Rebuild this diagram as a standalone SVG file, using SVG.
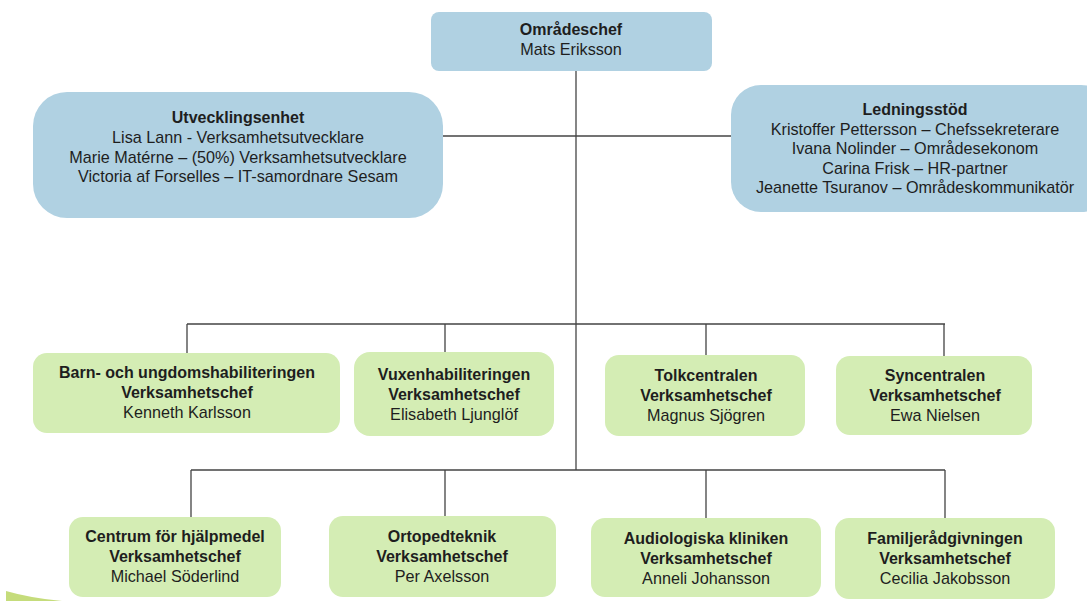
<svg xmlns="http://www.w3.org/2000/svg" width="1087" height="601" viewBox="0 0 1087 601">
<style>
.blue{fill:#b0d1e2}
.green{fill:#d4edb4}
.t{font-family:"Liberation Sans",Arial,sans-serif;font-size:16.2px;fill:#1e1e1e;text-anchor:middle}
.b{font-weight:bold;font-size:16px}
.c{stroke:#444;stroke-width:1.3;fill:none}
</style>
<rect width="1087" height="601" fill="#ffffff"/>
<path d="M6,591 Q30,598 62,601 L6,601 Z" fill="#b7d35a" opacity="0.8"/>
<g id="connectors">
<path class="c" d="M576,71 V470"/>
<path class="c" d="M443,136 H733"/>
<path class="c" d="M187,324 H945 M187,324 V353 M445,324 V352 M706,324 V355 M944,324 V356"/>
<path class="c" d="M191,470 H945 M191,470 V517 M445,470 V516 M706,470 V518 M945,470 V518"/>
</g>
<g id="omradeschef">
<rect class="blue" x="431" y="12" width="281" height="59" rx="8"/>
<text class="t b" x="571" y="35">Områdeschef</text>
<text class="t" x="571" y="55">Mats Eriksson</text>
</g>
<g id="utvecklingsenhet">
<rect class="blue" x="33" y="92" width="410" height="126" rx="34"/>
<text class="t b" x="238" y="123">Utvecklingsenhet</text>
<text class="t" x="238" y="143">Lisa Lann - Verksamhetsutvecklare</text>
<text class="t" x="238" y="163">Marie Matérne – (50%) Verksamhetsutvecklare</text>
<text class="t" x="238" y="182">Victoria af Forselles – IT-samordnare Sesam</text>
</g>
<g id="ledningsstod">
<rect class="blue" x="731" y="85" width="380" height="127" rx="30"/>
<text class="t b" x="915" y="115">Ledningsstöd</text>
<text class="t" x="915" y="135">Kristoffer Pettersson – Chefssekreterare</text>
<text class="t" x="915" y="154">Ivana Nolinder – Områdesekonom</text>
<text class="t" x="915" y="174">Carina Frisk – HR-partner</text>
<text class="t" x="915" y="193">Jeanette Tsuranov – Områdeskommunikatör</text>
</g>
<g id="barn">
<rect class="green" x="33" y="353" width="307" height="80" rx="14"/>
<text class="t b" x="187" y="378">Barn- och ungdomshabiliteringen</text>
<text class="t b" x="187" y="398">Verksamhetschef</text>
<text class="t" x="187" y="418">Kenneth Karlsson</text>
</g>
<g id="vuxen">
<rect class="green" x="354" y="352" width="200" height="84" rx="16"/>
<text class="t b" x="454" y="380">Vuxenhabiliteringen</text>
<text class="t b" x="454" y="400">Verksamhetschef</text>
<text class="t" x="454" y="420">Elisabeth Ljunglöf</text>
</g>
<g id="tolk">
<rect class="green" x="605" y="355" width="200" height="81" rx="14"/>
<text class="t b" x="706" y="381">Tolkcentralen</text>
<text class="t b" x="706" y="401">Verksamhetschef</text>
<text class="t" x="706" y="421">Magnus Sjögren</text>
</g>
<g id="syn">
<rect class="green" x="836" y="356" width="196" height="79" rx="14"/>
<text class="t b" x="935" y="381">Syncentralen</text>
<text class="t b" x="935" y="401">Verksamhetschef</text>
<text class="t" x="935" y="421">Ewa Nielsen</text>
</g>
<g id="centrum">
<rect class="green" x="69" y="517" width="212" height="80" rx="14"/>
<text class="t b" x="175" y="542">Centrum för hjälpmedel</text>
<text class="t b" x="175" y="562">Verksamhetschef</text>
<text class="t" x="175" y="582">Michael Söderlind</text>
</g>
<g id="orto">
<rect class="green" x="329" y="516" width="227" height="81" rx="14"/>
<text class="t b" x="442" y="542">Ortopedteknik</text>
<text class="t b" x="442" y="562">Verksamhetschef</text>
<text class="t" x="442" y="582">Per Axelsson</text>
</g>
<g id="audio">
<rect class="green" x="591" y="518" width="230" height="79" rx="14"/>
<text class="t b" x="706" y="544">Audiologiska kliniken</text>
<text class="t b" x="706" y="564">Verksamhetschef</text>
<text class="t" x="706" y="584">Anneli Johansson</text>
</g>
<g id="familj">
<rect class="green" x="835" y="518" width="220" height="81" rx="14"/>
<text class="t b" x="945" y="544">Familjerådgivningen</text>
<text class="t b" x="945" y="564">Verksamhetschef</text>
<text class="t" x="945" y="584">Cecilia Jakobsson</text>
</g>
</svg>
